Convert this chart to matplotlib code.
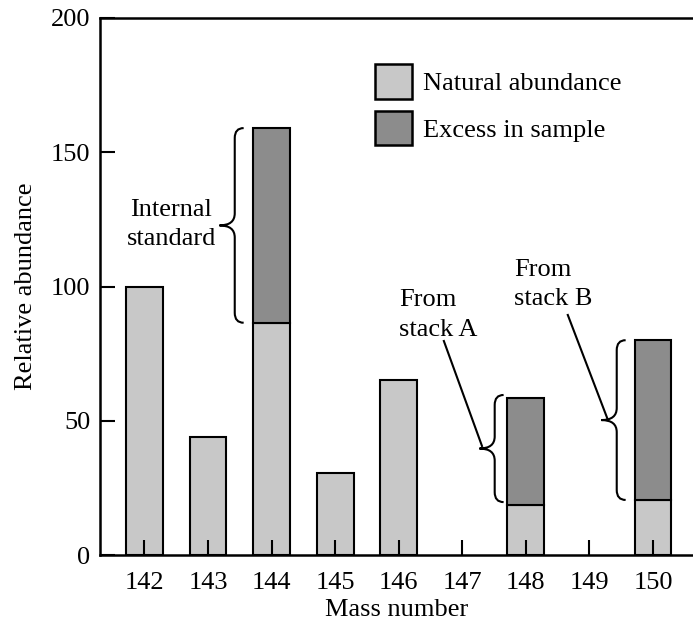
import matplotlib
matplotlib.use("Agg")
import matplotlib.pyplot as plt
from matplotlib.path import Path
from matplotlib.patches import PathPatch, Patch

plt.rcParams['font.family'] = ['Liberation Serif', 'DejaVu Serif']

# ---- data ----
mass_numbers = [142, 143, 144, 145, 146, 147, 148, 149, 150]
natural = [100, 44, 86.5, 30.5, 65, 0, 18.5, 0, 20.5]
excess = [0, 0, 72.5, 0, 0, 0, 40, 0, 59.5]
yticks = [0, 50, 100, 150, 200]
light = '#c8c8c8'
dark = '#8c8c8c'
FS = 19

fig = plt.figure(figsize=(6.93, 6.23), dpi=100)
ax = fig.add_axes([100/693, 68/623, 593/693, 537/623])

idx = [i for i, v in enumerate(natural) if v + excess[i] > 0]
xs = [mass_numbers[i] for i in idx]
nat = [natural[i] for i in idx]
exc = [excess[i] for i in idx]
ax.bar(xs, nat, width=0.58, color=light, edgecolor='black', linewidth=1.5, zorder=1)
xe = [x for x, e in zip(xs, exc) if e > 0]
ne = [n for n, e in zip(nat, exc) if e > 0]
ee = [e for e in exc if e > 0]
ax.bar(xe, ee, bottom=ne, width=0.58, color=dark, edgecolor='black', linewidth=1.5, zorder=1)

ax.set_xlim(141.30, 150.63)
ax.set_ylim(0, 200)
ax.set_xticks(mass_numbers)
ax.set_yticks(yticks)
ax.tick_params(direction='in', length=11, width=1.5, labelsize=FS)
ax.tick_params(axis='x', pad=12)
ax.tick_params(axis='y', pad=7)
for s in ['left', 'bottom', 'top']:
    ax.spines[s].set_linewidth(1.8)
ax.spines['right'].set_visible(False)
ax.set_xlabel('Mass number', fontsize=FS, labelpad=3.5)
ax.set_ylabel('Relative abundance', fontsize=FS, labelpad=10)


def brace(x, y0, y1, tip=0.24, curl=0.14, r=3.7, rt=4.5):
    ym = (y0 + y1) / 2
    verts = [
        (x + curl, y1), (x, y1), (x, y1 - r),
        (x, ym + rt),
        (x, ym), (x - tip, ym),
        (x, ym), (x, ym - rt),
        (x, y0 + r),
        (x, y0), (x + curl, y0),
    ]
    codes = [Path.MOVETO, Path.CURVE3, Path.CURVE3,
             Path.LINETO,
             Path.CURVE3, Path.CURVE3,
             Path.CURVE3, Path.CURVE3,
             Path.LINETO,
             Path.CURVE3, Path.CURVE3]
    ax.add_patch(PathPatch(Path(verts, codes), facecolor='none',
                           edgecolor='black', linewidth=1.5, zorder=3))


# internal standard brace (mass 144)
brace(143.42, natural[2], natural[2] + excess[2])
ax.text(142.42, 123, 'Internal\nstandard', ha='center', va='center',
        fontsize=FS, linespacing=1.42)

# stack A brace (mass 148)
brace(147.51, 19.7, 59.6)
ax.text(146.00, 89.4, 'From\nstack A', ha='left', va='center',
        fontsize=FS, linespacing=1.42)
ax.plot([147.31, 146.71], [40.6, 79.7], color='black', linewidth=1.5)

# stack B brace (mass 150)
brace(149.43, 20.5, 80.0)
ax.text(147.81, 100.6, 'From\nstack B', ha='left', va='center',
        fontsize=FS, linespacing=1.42)
ax.plot([149.28, 148.66], [51.0, 89.4], color='black', linewidth=1.5)

handles = [Patch(facecolor=light, edgecolor='black', linewidth=1.8),
           Patch(facecolor=dark, edgecolor='black', linewidth=1.8)]
fig.legend(handles, ['Natural abundance', 'Excess in sample'],
           loc='upper left', bbox_to_anchor=(375/693, 1 - 64/623),
           frameon=False, fontsize=FS, handlelength=1.4, handleheight=1.65,
           handletextpad=0.42, labelspacing=0.45, borderpad=0, borderaxespad=0)

fig.savefig('out.png', dpi=100)
